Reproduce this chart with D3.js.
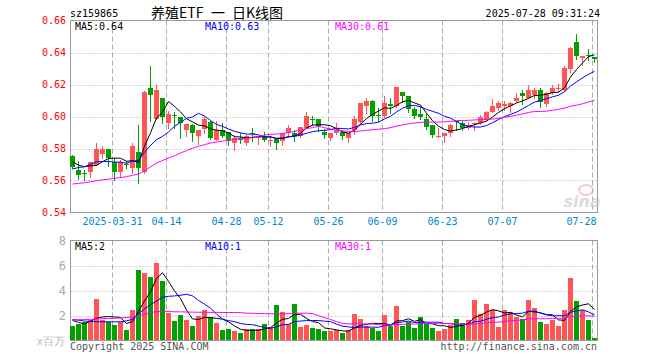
<!doctype html>
<html>
<head>
<meta charset="utf-8">
<script src="https://cdn.jsdelivr.net/npm/d3@7"></script>
<style>
  body { margin: 0; background: #fff; }
  text { font-family: "DejaVu Sans Mono", monospace; font-size: 10px; }
</style>
</head>
<body>
<svg id="chart" width="660" height="360"></svg>
<script>
const dates = ['03-20', '03-21', '03-24', '03-25', '03-26', '03-27', '03-28', '03-31',
  '04-01', '04-02', '04-03', '04-07', '04-08', '04-09', '04-10', '04-11',
  '04-14', '04-15', '04-16', '04-17', '04-18', '04-21', '04-22', '04-23', '04-24', '04-25',
  '04-28', '04-29', '04-30', '05-06', '05-07', '05-08', '05-09',
  '05-12', '05-13', '05-14', '05-15', '05-16', '05-19', '05-20', '05-21', '05-22', '05-23',
  '05-26', '05-27', '05-28', '05-29', '05-30', '06-03', '06-04', '06-05', '06-06',
  '06-09', '06-10', '06-11', '06-12', '06-13', '06-16', '06-17', '06-18', '06-19', '06-20',
  '06-23', '06-24', '06-25', '06-26', '06-27', '06-30', '07-01', '07-02', '07-03', '07-04',
  '07-07', '07-08', '07-09', '07-10', '07-11', '07-14', '07-15', '07-16', '07-17', '07-18',
  '07-21', '07-22', '07-23', '07-24', '07-25', '07-28']

const open = [0.5754, 0.5667, 0.5645, 0.5652, 0.5698, 0.5767, 0.5796, 0.5713, 0.5652, 0.5704,
  0.5681, 0.5781, 0.5652, 0.6177, 0.5985, 0.6115, 0.5958, 0.6008, 0.5994, 0.5917,
  0.5944, 0.5881, 0.5919, 0.5965, 0.5852, 0.5917, 0.5902, 0.5833, 0.5860, 0.5833,
  0.5898, 0.5873, 0.5875, 0.5854, 0.5858, 0.5848, 0.5896, 0.5896, 0.5881, 0.5927,
  0.5987, 0.5983, 0.5903, 0.5865, 0.5900, 0.5906, 0.5865, 0.5917, 0.5965, 0.6063,
  0.6094, 0.6008, 0.6006, 0.6077, 0.6063, 0.6156, 0.6125, 0.6046, 0.6015, 0.5983,
  0.5944, 0.5879, 0.5879, 0.5900, 0.5971, 0.5958, 0.5927, 0.5956, 0.5958, 0.5979,
  0.6031, 0.6056, 0.6065, 0.6067, 0.6098, 0.6146, 0.6115, 0.6135, 0.6167, 0.6077,
  0.6146, 0.6179, 0.6163, 0.6298, 0.6465, 0.6365, 0.6383, 0.6369]
const high = [0.5760, 0.5725, 0.5667, 0.5715, 0.5833, 0.5813, 0.5798, 0.5740, 0.5729, 0.5725,
  0.5833, 0.5948, 0.6160, 0.6313, 0.6198, 0.6118, 0.6035, 0.6028, 0.5998, 0.5954,
  0.5955, 0.5913, 0.6000, 0.5973, 0.5975, 0.5958, 0.5902, 0.5885, 0.5896, 0.5885,
  0.5927, 0.5879, 0.5902, 0.5881, 0.5860, 0.5896, 0.5944, 0.5917, 0.5933, 0.6027,
  0.6006, 0.5983, 0.5925, 0.5900, 0.5958, 0.5917, 0.5900, 0.6006, 0.6085, 0.6115,
  0.6104, 0.6052, 0.6125, 0.6115, 0.6183, 0.6156, 0.6125, 0.6058, 0.6058, 0.6015,
  0.5944, 0.5927, 0.5900, 0.5954, 0.5973, 0.5975, 0.5965, 0.5965, 0.6010, 0.6035,
  0.6110, 0.6098, 0.6094, 0.6090, 0.6146, 0.6167, 0.6198, 0.6177, 0.6177, 0.6156,
  0.6198, 0.6202, 0.6313, 0.6433, 0.6515, 0.6381, 0.6423, 0.6375]
const low = [0.5680, 0.5610, 0.5604, 0.5623, 0.5695, 0.5740, 0.5692, 0.5604, 0.5625, 0.5677,
  0.5646, 0.5583, 0.5646, 0.5970, 0.5985, 0.5958, 0.5931, 0.5928, 0.5865, 0.5881,
  0.5848, 0.5829, 0.5896, 0.5858, 0.5852, 0.5875, 0.5823, 0.5792, 0.5833, 0.5825,
  0.5844, 0.5829, 0.5844, 0.5813, 0.5798, 0.5823, 0.5875, 0.5844, 0.5869, 0.5927,
  0.5948, 0.5911, 0.5865, 0.5854, 0.5890, 0.5860, 0.5840, 0.5892, 0.5962, 0.6021,
  0.5973, 0.5969, 0.5994, 0.6021, 0.6060, 0.6092, 0.6027, 0.5990, 0.5985, 0.5923,
  0.5871, 0.5871, 0.5838, 0.5881, 0.5917, 0.5917, 0.5921, 0.5913, 0.5954, 0.5979,
  0.6025, 0.6042, 0.6042, 0.6031, 0.6090, 0.6079, 0.6113, 0.6115, 0.6060, 0.6063,
  0.6140, 0.6156, 0.6160, 0.6271, 0.6360, 0.6319, 0.6354, 0.6340]
const close = [0.5685, 0.5635, 0.5642, 0.5715, 0.5796, 0.5796, 0.5740, 0.5652, 0.5713, 0.5701,
  0.5817, 0.5681, 0.6156, 0.6135, 0.6163, 0.6000, 0.6015, 0.6005, 0.5958, 0.5954,
  0.5900, 0.5913, 0.5983, 0.5865, 0.5913, 0.5881, 0.5844, 0.5865, 0.5858, 0.5881,
  0.5895, 0.5875, 0.5854, 0.5856, 0.5833, 0.5896, 0.5927, 0.5881, 0.5933, 0.6006,
  0.5985, 0.5938, 0.5882, 0.5900, 0.5917, 0.5881, 0.5896, 0.5983, 0.6083, 0.6094,
  0.6006, 0.6006, 0.6083, 0.6063, 0.6183, 0.6125, 0.6048, 0.6006, 0.5994, 0.5933,
  0.5885, 0.5881, 0.5900, 0.5944, 0.5969, 0.5931, 0.5944, 0.5958, 0.5994, 0.6027,
  0.6063, 0.6083, 0.6077, 0.6083, 0.6115, 0.6129, 0.6163, 0.6167, 0.6090, 0.6146,
  0.6177, 0.6181, 0.6302, 0.6427, 0.6381, 0.6381, 0.6381, 0.6358]
// volume, millions
const volume = [1.19, 1.32, 1.45, 1.64, 3.32, 1.67, 1.51, 1.24, 1.51, 0.84,
  2.44, 5.64, 5.40, 5.08, 6.20, 4.76, 2.23, 1.56, 2.04, 1.64,
  1.16, 1.99, 2.44, 1.88, 1.40, 0.84, 0.92, 0.76, 0.60, 0.92,
  0.90, 0.90, 1.30, 1.10, 2.84, 2.30, 1.30, 2.92, 1.10, 1.24,
  1.00, 0.92, 0.76, 0.76, 0.81, 0.60, 0.81, 2.12, 1.72, 1.19,
  1.03, 0.76, 2.04, 1.20, 2.76, 1.20, 1.50, 1.00, 1.88, 1.30,
  1.00, 0.76, 0.92, 1.24, 1.72, 1.40, 1.64, 3.24, 2.10, 2.96,
  2.44, 1.10, 2.44, 2.30, 1.90, 1.72, 3.24, 2.60, 1.48, 1.32,
  1.64, 1.19, 2.44, 5.00, 3.16, 2.44, 1.64, 0.18]

// moving averages before the window is full
const ma5Head = [0.5717, 0.5696, 0.5686, 0.5692]
const ma10Head = [0.5672, 0.5681, 0.5686, 0.5701, 0.5717, 0.5719, 0.5719, 0.5715, 0.5715]
const ma30Head = [0.5578, 0.5582, 0.5586, 0.5592, 0.5598, 0.5604, 0.5608, 0.5614, 0.5618, 0.5624,
  0.5632, 0.5641, 0.5660, 0.5685, 0.5708, 0.5725, 0.5740, 0.5755, 0.5772, 0.5787,
  0.5802, 0.5814, 0.5824, 0.5834, 0.5840, 0.5846, 0.5852, 0.5858, 0.5863]
const vma5Head = [1.61, 1.45, 1.32, 1.55]
const vma10Head = [1.69, 1.62, 1.56, 1.52, 1.50, 1.50, 1.50, 1.50, 1.50]
const vma30Head = [1.64, 1.66, 1.68, 1.70, 1.72, 1.74, 1.76, 1.78, 1.80, 1.84,
  1.88, 1.98, 2.10, 2.22, 2.32, 2.34, 2.32, 2.30, 2.29, 2.28,
  2.27, 2.26, 2.26, 2.25, 2.25, 2.24, 2.24, 2.24, 2.23]

const priceTicks = [0.54, 0.56, 0.58, 0.60, 0.62, 0.64, 0.66]
const volTicks = [2, 4, 6, 8]
const tickDates = ['03-31', '04-14', '04-28', '05-12', '05-26', '06-09', '06-23', '07-07', '07-28']
const tickLabels = ['2025-03-31', '04-14', '04-28', '05-12', '05-26', '06-09', '06-23', '07-07', '07-28']
const priceLegend = ['MA5:0.64', 'MA10:0.63', 'MA30:0.61']
const volLegend = ['MA5:2', 'MA10:1', 'MA30:1']
const titleParts = ['养殖ETF', '一', '日K线图']

const RED = '#ff5555'
const GREEN = '#00a000'
const maColors = ['#000000', '#0000ff', '#ff00ff']

const svg = d3.select('#chart')
const left = 70.5, right = 597.5

const x = d3.scaleBand().domain(dates).range([69.5, 597.5])
const cx = d => x(d) + x.bandwidth() / 2
const y = d3.scaleLinear().domain([0.54, 0.66]).range([212.5, 20.5])
const yv = d3.scaleLinear().domain([0, 8]).range([340.5, 240.5])

function ma (vals, n, head) {
  return vals.map((v, i) => i < head.length ? head[i] : d3.mean(vals.slice(i - n + 1, i + 1)))
}

function panel (yScale, ticks) {
  const top = yScale.range()[1], bottom = yScale.range()[0]
  svg.append('g')
    .selectAll('line')
    .data(ticks.filter(t => t !== yScale.domain()[0] && t !== yScale.domain()[1]))
    .join('line')
    .attr('x1', left).attr('x2', right)
    .attr('y1', d => Math.round(yScale(d)) + 0.5).attr('y2', d => Math.round(yScale(d)) + 0.5)
    .attr('stroke', '#aaa')
    .attr('stroke-dasharray', '1,2')
  svg.append('g')
    .selectAll('line')
    .data(tickDates)
    .join('line')
    .attr('x1', d => cx(d) - 2).attr('x2', d => cx(d) - 2)
    .attr('y1', top).attr('y2', bottom)
    .attr('stroke', '#aaa')
    .attr('stroke-dasharray', '5,3')
  svg.append('rect')
    .attr('x', left).attr('y', top)
    .attr('width', right - left).attr('height', bottom - top)
    .attr('fill', 'none')
    .attr('stroke', '#999')
}

panel(y, priceTicks)
panel(yv, [0, 2, 4, 6, 8])

// header
svg.append('text').attr('x', 70).attr('y', 17).text('sz159865')
svg.append('g').selectAll('text')
  .data(titleParts)
  .join('text')
  .attr('x', (d, i) => [151, 211, 232][i]).attr('y', 18)
  .style('font-family', '"Noto Sans CJK SC", sans-serif').style('font-size', '14px')
  .text(d => d)
svg.append('text').attr('x', 600).attr('y', 17).attr('text-anchor', 'end').text('2025-07-28 09:31:24')

// price axis
svg.append('g')
  .attr('transform', 'translate(66,0)')
  .call(d3.axisLeft(y).tickValues(priceTicks).tickFormat(d3.format('.2f')).tickSize(0).tickPadding(0))
  .call(g => g.select('.domain').remove())
  .attr('font-family', null).attr('font-size', null)
  .selectAll('text').attr('fill', '#ff0000')

// date axis
svg.append('g')
  .attr('transform', 'translate(-2,212.5)')
  .call(d3.axisBottom(x).tickValues(tickDates).tickFormat((d, i) => tickLabels[i]).tickSize(0).tickPadding(5))
  .call(g => g.select('.domain').remove())
  .attr('font-family', null).attr('font-size', null)
  .call(g => g.selectAll('text').attr('fill', '#0088cc'))
  .call(g => g.select('.tick:last-of-type text').attr('text-anchor', 'end').attr('x', 4))

// volume axis
svg.append('g')
  .attr('transform', 'translate(66,0)')
  .call(d3.axisLeft(yv).tickValues(volTicks).tickFormat(d3.format('d')).tickSize(0).tickPadding(0))
  .call(g => g.select('.domain').remove())
  .attr('font-family', null).attr('font-size', null)
  .selectAll('text').attr('fill', '#aaa').style('font-size', '12px')

svg.append('text').attr('x', 65).attr('y', 345).attr('text-anchor', 'end')
  .attr('fill', '#bbb').style('font-size', '11px').text('x百万')
svg.append('text').attr('x', 70).attr('y', 350).attr('fill', '#555').text('Copyright 2025 SINA.COM')
svg.append('text').attr('x', 597).attr('y', 350).attr('text-anchor', 'end').attr('fill', '#555').text('http://finance.sina.com.cn')

// watermark
const wm = svg.append('g').attr('opacity', 0.55)
wm.append('ellipse').attr('cx', 586).attr('cy', 190).attr('rx', 7).attr('ry', 5)
  .attr('fill', 'none').attr('stroke', '#f0a0a0').attr('stroke-width', 2)
wm.append('text').attr('x', 582).attr('y', 207).attr('text-anchor', 'middle')
  .style('font-family', 'DejaVu Sans').style('font-size', '16px').style('font-style', 'italic').style('font-weight', 'bold')
  .attr('fill', '#c8bcbc').text('sina')

// candles
const idx = d3.range(dates.length)
const up = i => close[i] >= open[i]
const candles = svg.append('g').attr('shape-rendering', 'crispEdges')
candles.selectAll('line')
  .data(idx)
  .join('line')
  .attr('x1', i => cx(dates[i])).attr('x2', i => cx(dates[i]))
  .attr('y1', i => Math.round(y(high[i]))).attr('y2', i => Math.round(y(low[i])) + 1)
  .attr('stroke', i => up(i) ? RED : GREEN)
candles.selectAll('rect')
  .data(idx)
  .join('rect')
  .attr('x', i => x(dates[i]) + 0.5)
  .attr('width', x.bandwidth() - 1)
  .attr('y', i => Math.round(y(Math.max(open[i], close[i]))))
  .attr('height', i => Math.max(1, Math.round(y(Math.min(open[i], close[i]))) - Math.round(y(Math.max(open[i], close[i])))))
  .attr('fill', i => up(i) ? RED : GREEN)

// volume bars
svg.append('g').attr('shape-rendering', 'crispEdges')
  .selectAll('rect')
  .data(idx)
  .join('rect')
  .attr('x', i => x(dates[i]) + 0.5)
  .attr('width', x.bandwidth() - 1)
  .attr('y', i => Math.round(yv(volume[i])))
  .attr('height', i => 340 - Math.round(yv(volume[i])))
  .attr('fill', i => up(i) ? RED : GREEN)

// moving average lines
const priceMA = [ma(close, 5, ma5Head), ma(close, 10, ma10Head), ma(close, 30, ma30Head)]
const volMA = [ma(volume, 5, vma5Head), ma(volume, 10, vma10Head), ma(volume, 30, vma30Head)]

const lineP = d3.line().x((d, i) => cx(dates[i])).y(d => y(d))
const lineV = d3.line().x((d, i) => cx(dates[i])).y(d => yv(d))

svg.append('g').selectAll('path')
  .data(priceMA)
  .join('path')
  .attr('d', lineP)
  .attr('fill', 'none')
  .attr('stroke', (d, i) => maColors[i])
  .attr('stroke-width', 1)

svg.append('g').selectAll('path')
  .data(volMA)
  .join('path')
  .attr('d', lineV)
  .attr('fill', 'none')
  .attr('stroke', (d, i) => maColors[i])
  .attr('stroke-width', 1)

// legends
const legendX = [75, 205, 335]
svg.append('g').selectAll('text')
  .data(priceLegend)
  .join('text')
  .attr('x', (d, i) => legendX[i]).attr('y', 30)
  .attr('fill', (d, i) => maColors[i])
  .text(d => d)
svg.append('g').selectAll('text')
  .data(volLegend)
  .join('text')
  .attr('x', (d, i) => legendX[i]).attr('y', 250)
  .attr('fill', (d, i) => maColors[i])
  .text(d => d)
</script>
</body>
</html>
